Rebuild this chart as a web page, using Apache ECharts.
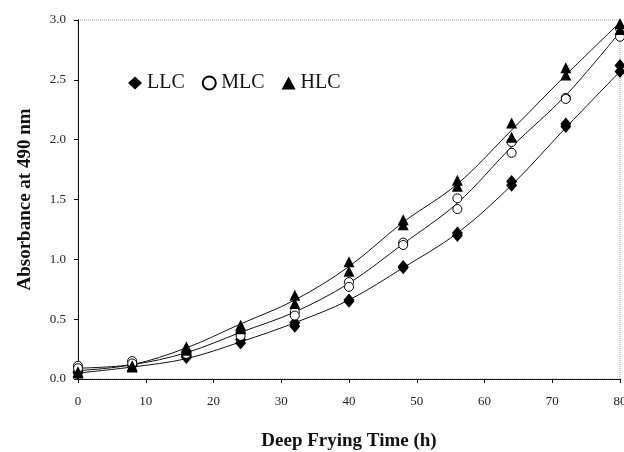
<!DOCTYPE html>
<html>
<head>
<meta charset="utf-8">
<script src="https://cdn.jsdelivr.net/npm/echarts@6/dist/echarts.min.js"></script>
<style>
  html, body { margin: 0; padding: 0; background: #fff; overflow: hidden; }
  #chart { width: 624px; height: 452px; }
</style>
</head>
<body>
<div id="chart"></div>
<script>
// Deep frying time (h)
const times = [0, 8, 16, 24, 32, 40, 48, 56, 64, 72, 80];

// Absorbance at 490 nm, two replicate readings per sample
const llcRep1 = [0.06, 0.12, 0.19, 0.33, 0.47, 0.66, 0.93, 1.22, 1.65, 2.13, 2.62];
const llcRep2 = [0.05, 0.11, 0.18, 0.30, 0.44, 0.65, 0.94, 1.20, 1.62, 2.11, 2.57];
const mlcRep1 = [0.11, 0.15, 0.22, 0.39, 0.56, 0.81, 1.14, 1.51, 1.98, 2.35, 2.93];
const mlcRep2 = [0.09, 0.13, 0.21, 0.36, 0.53, 0.77, 1.12, 1.42, 1.89, 2.34, 2.86];
const hlcRep1 = [0.06, 0.11, 0.27, 0.45, 0.70, 0.98, 1.33, 1.66, 2.14, 2.60, 2.97];
const hlcRep2 = [0.05, 0.10, 0.24, 0.42, 0.63, 0.90, 1.29, 1.61, 2.02, 2.54, 2.92];

// Trend curves through each sample
const llcTrend = [0.05, 0.10, 0.17, 0.31, 0.47, 0.66, 0.93, 1.22, 1.62, 2.10, 2.57];
const mlcTrend = [0.09, 0.12, 0.22, 0.39, 0.56, 0.80, 1.13, 1.47, 1.94, 2.37, 2.90];
const hlcTrend = [0.07, 0.12, 0.26, 0.46, 0.66, 0.94, 1.31, 1.63, 2.08, 2.54, 2.98];

const sampleNames = ['LLC', 'MLC', 'HLC'];
const xTicks = { min: 0, max: 80, step: 10 };
const yTicks = { min: 0, max: 3, step: 0.5 };

function pairs(xs, ...reps) {
  const out = [];
  reps.forEach(r => r.forEach((v, i) => out.push([xs[i], v])));
  return out;
}
function line(xs, ys) { return xs.map((x, i) => [x, ys[i]]); }

const serif = '"Liberation Serif", "DejaVu Serif", serif';

const trendStyle = (data) => ({
  type: 'line', data, smooth: 0.35, showSymbol: false, silent: true,
  lineStyle: { color: '#111', width: 1 }, z: 2, clip: false
});

const chart = echarts.init(document.getElementById('chart'), null, { renderer: 'canvas', width: 624, height: 452 });
chart.setOption({
  animation: false,
  backgroundColor: '#fff',
  grid: {
    left: 78, right: 4, top: 20, bottom: 73,
    containLabel: false, outerBoundsMode: 'none',
    show: true, borderColor: '#999', borderWidth: 1, borderType: 'dotted'
  },
  legend: {
    data: sampleNames,
    left: 123, top: 68,
    itemWidth: 14, itemHeight: 13, itemGap: 17,
    textStyle: { fontFamily: serif, fontSize: 20, color: '#111' }
  },
  xAxis: {
    type: 'value', min: xTicks.min, max: xTicks.max, interval: xTicks.step,
    name: 'Deep Frying Time (h)', nameLocation: 'middle', nameGap: 53,
    nameTextStyle: { fontFamily: serif, fontSize: 19, fontWeight: 'bold', color: '#111' },
    axisLine: { lineStyle: { color: '#111', width: 1 } },
    axisTick: { lineStyle: { color: '#111' }, length: 4 },
    axisLabel: { fontFamily: serif, fontSize: 13, color: '#222', margin: 16 },
    splitLine: { show: false }
  },
  yAxis: {
    type: 'value', min: yTicks.min, max: yTicks.max, interval: yTicks.step,
    name: 'Absorbance at 490 nm', nameLocation: 'middle', nameGap: 43, nameRotate: 90,
    nameTextStyle: { fontFamily: serif, fontSize: 19, fontWeight: 'bold', color: '#111' },
    axisLine: { show: true, lineStyle: { color: '#111', width: 1 } },
    axisTick: { show: true, lineStyle: { color: '#111' }, length: 4 },
    axisLabel: { fontFamily: serif, fontSize: 13, color: '#222', margin: 12,
      formatter: v => v.toFixed(1) },
    splitLine: { show: false }
  },
  series: [
    trendStyle(line(times, llcTrend)),
    trendStyle(line(times, mlcTrend)),
    trendStyle(line(times, hlcTrend)),
    {
      name: 'LLC', type: 'scatter', data: pairs(times, llcRep1, llcRep2),
      symbol: 'diamond', symbolSize: [11, 13], clip: false, z: 3,
      itemStyle: { color: '#000', opacity: 1 }
    },
    {
      name: 'MLC', type: 'scatter', data: pairs(times, mlcRep1, mlcRep2),
      symbol: 'circle', symbolSize: 9, clip: false, z: 4,
      itemStyle: { color: '#fff', borderColor: '#000', borderWidth: 1, opacity: 1 }
    },
    {
      name: 'HLC', type: 'scatter', data: pairs(times, hlcRep1, hlcRep2),
      symbol: 'triangle', symbolSize: 11, clip: false, z: 5,
      itemStyle: { color: '#000', opacity: 1 }
    }
  ]
});
</script>
</body>
</html>
